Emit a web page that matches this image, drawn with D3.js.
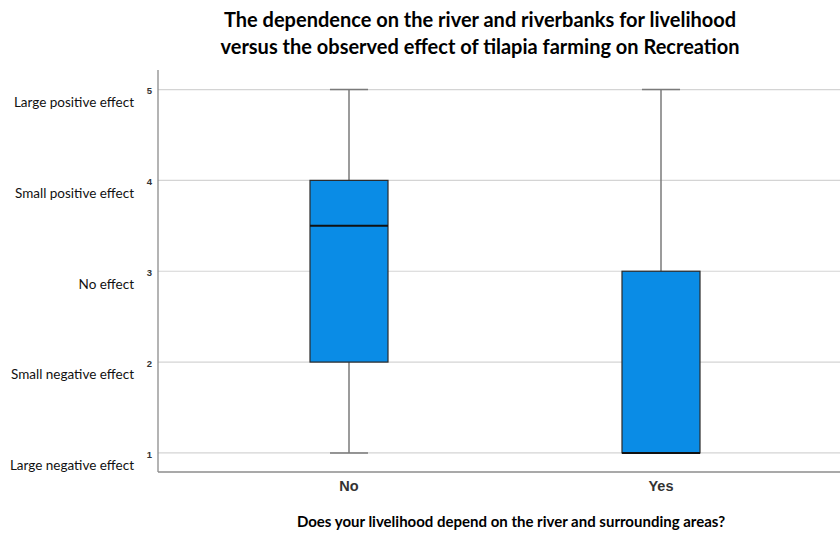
<!DOCTYPE html>
<html>
<head>
<meta charset="utf-8">
<script src="https://cdn.jsdelivr.net/npm/d3@7"></script>
<style>
  html, body { margin: 0; padding: 0; background: #fff; }
  svg { display: block; }
</style>
</head>
<body>
<svg id="chart" width="840" height="535"></svg>
<script>
// Groups on the x axis
const categories = ["No", "Yes"];
// Five-number summaries per group
const mins    = [1, 1];
const q1s     = [2, 1];
const medians = [3.5, 1];
const q3s     = [4, 3];
const maxs    = [5, 5];
// Numeric ticks and their verbal meaning
const tickValues = [1, 2, 3, 4, 5];
const tickNames = ["Large negative effect", "Small negative effect", "No effect",
                   "Small positive effect", "Large positive effect"];

const titleLines = [
  "The dependence on the river and riverbanks for livelihood",
  "versus the observed effect of tilapia farming on Recreation"
];
const xTitle = "Does your livelihood depend on the river and surrounding areas?";

const svg = d3.select("#chart");
const plotLeft = 158, plotRight = 840, plotTop = 70, plotBottom = 472;
const sansFont = "Lato, 'Open Sans', sans-serif";

const y = d3.scaleLinear().domain([0.79, 5.215]).range([plotBottom, plotTop]);
const x = d3.scaleBand().domain(categories).range([193, 817]).padding(0);
const boxW = x.bandwidth() * 0.25;
const capW = x.bandwidth() * 0.122;

// gridlines
svg.append("g")
  .selectAll("line").data(tickValues).join("line")
  .attr("x1", plotLeft).attr("x2", plotRight)
  .attr("y1", d => y(d)).attr("y2", d => y(d))
  .attr("stroke", "#d4d4d4").attr("stroke-width", 1.2);

// y axis with numeric ticks
const yAxis = svg.append("g")
  .attr("transform", `translate(${plotLeft},0)`)
  .call(d3.axisLeft(y).tickValues(tickValues).tickSize(0).tickPadding(6).tickFormat(d3.format("d")));
yAxis.select(".domain").attr("stroke", "#8c8c8c").attr("stroke-width", 1.3)
  .attr("d", `M0,${plotTop}V${plotBottom}`);
yAxis.selectAll("text").attr("font-family", "Liberation Sans, Arial, sans-serif")
  .attr("font-size", 9.5).attr("font-weight", 600).attr("fill", "#333").attr("dy", "0.45em");

// x axis baseline and category labels
const xAxis = svg.append("g")
  .attr("transform", `translate(0,${plotBottom})`)
  .call(d3.axisBottom(x).tickSize(0).tickPadding(9));
xAxis.select(".domain").attr("stroke", "#8c8c8c").attr("stroke-width", 1.3)
  .attr("d", `M${plotLeft},0H${plotRight}`);
xAxis.selectAll("text").attr("font-family", "Liberation Sans, Arial, sans-serif")
  .attr("font-size", 14.5).attr("font-weight", 600).attr("fill", "#333");

// verbal labels next to the numeric ticks
svg.append("g")
  .selectAll("text").data(tickValues).join("text")
  .attr("x", 134).attr("y", d => y(d) + 14)
  .attr("text-anchor", "end").attr("dominant-baseline", "middle")
  .attr("font-family", sansFont).attr("font-size", 13.5)
  .attr("fill", "#111")
  .text((d, i) => tickNames[i]);

// box plots
const data = categories.map((c, i) => ({
  c, min: mins[i], q1: q1s[i], med: medians[i], q3: q3s[i], max: maxs[i]
}));
const g = svg.append("g").selectAll("g").data(data).join("g")
  .attr("transform", d => `translate(${x(d.c) + x.bandwidth() / 2},0)`);

// whiskers
g.append("line").attr("x1", 0).attr("x2", 0)
  .attr("y1", d => y(d.q3)).attr("y2", d => y(d.max))
  .attr("stroke", "#7a7a7a").attr("stroke-width", 1.5);
g.append("line").attr("x1", 0).attr("x2", 0)
  .attr("y1", d => y(d.q1)).attr("y2", d => y(d.min))
  .attr("stroke", "#7a7a7a").attr("stroke-width", 1.5);
// caps
g.append("line").attr("x1", -capW / 2).attr("x2", capW / 2)
  .attr("y1", d => y(d.max)).attr("y2", d => y(d.max))
  .attr("stroke", "#7a7a7a").attr("stroke-width", 1.5);
g.append("line").attr("x1", -capW / 2).attr("x2", capW / 2)
  .attr("y1", d => y(d.min)).attr("y2", d => y(d.min))
  .attr("stroke", "#7a7a7a").attr("stroke-width", 1.5);

// boxes
g.append("rect")
  .attr("x", -boxW / 2).attr("width", boxW)
  .attr("y", d => y(d.q3)).attr("height", d => y(d.q1) - y(d.q3))
  .attr("fill", "#0a8ce6").attr("stroke", "#2a2a2a").attr("stroke-width", 1.2);

// medians
g.append("line").attr("x1", -boxW / 2).attr("x2", boxW / 2)
  .attr("y1", d => y(d.med)).attr("y2", d => y(d.med))
  .attr("stroke", "#111").attr("stroke-width", 2);

// title
svg.append("g").selectAll("text").data(titleLines).join("text")
  .attr("x", 480).attr("y", (d, i) => 27 + i * 27)
  .attr("text-anchor", "middle")
  .attr("font-family", sansFont)
  .attr("font-weight", "bold").attr("font-size", 20).attr("fill", "#000")
  .text(d => d);

// x axis title
svg.append("text")
  .attr("x", 511).attr("y", 527).attr("text-anchor", "middle")
  .attr("font-family", sansFont)
  .attr("font-weight", "bold").attr("font-size", 15).attr("fill", "#000")
  .text(xTitle);
</script>
</body>
</html>
